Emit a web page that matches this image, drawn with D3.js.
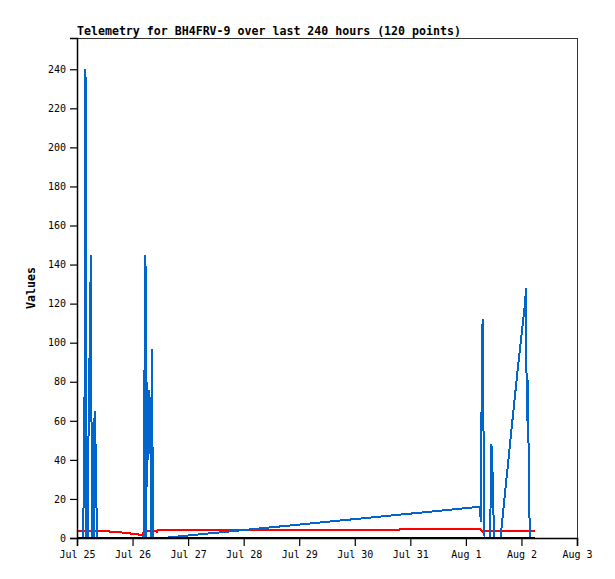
<!DOCTYPE html>
<html>
<head>
<meta charset="utf-8">
<script src="https://cdn.jsdelivr.net/npm/d3@7"></script>
<style>
  body { margin: 0; background: #fff; }
  text { font-family: "DejaVu Sans Mono", "Liberation Mono", monospace; }
</style>
</head>
<body>
<div id="chart"></div>
<script>
// tick labels on the time axis
var dayTicks = ["2024-07-25", "2024-07-26", "2024-07-27", "2024-07-28", "2024-07-29",
                "2024-07-30", "2024-07-31", "2024-08-01", "2024-08-02", "2024-08-03"];
var valueTicks = [0, 20, 40, 60, 80, 100, 120, 140, 160, 180, 200, 220, 240];

// blue series (spiky telemetry channel)
var blueTimes = [
  "07-25 02:35", "07-25 02:49", "07-25 03:09", "07-25 03:40", "07-25 04:06",
  "07-25 04:45", "07-25 05:06", "07-25 05:32", "07-25 05:58", "07-25 06:29",
  "07-25 07:08", "07-25 07:21", "07-25 07:36", "07-25 08:00", "07-25 08:25", "07-25 08:51",
  "07-26 04:44", "07-26 05:04", "07-26 05:35", "07-26 05:56", "07-26 06:14", "07-26 06:35",
  "07-26 06:53", "07-26 07:14", "07-26 07:37", "07-26 07:58", "07-26 08:24", "07-26 08:50",
  "07-26 13:05", "08-01 06:06", "08-01 06:26", "08-01 06:42", "08-01 06:58", "08-01 07:13",
  "08-01 07:36", "08-01 08:03", "08-01 10:25", "08-01 10:46", "08-01 11:02", "08-01 11:22",
  "08-01 11:43", "08-01 12:09", "08-01 14:57", "08-01 17:20", "08-01 19:55", "08-01 22:31",
  "08-02 01:33", "08-02 01:58", "08-02 02:19", "08-02 02:38", "08-02 02:56", "08-02 03:16",
  "08-02 03:43"
];
var blueValues = [
  0, 16, 32, 240, 0,
  0, 80, 97, 145, 0,
  0, 32, 65, 48, 16, 0,
  0, 72, 145, 0, 80, 40,
  76, 64, 72, 0, 97, 0,
  0, 16, 8, 57, 93, 112,
  57, 0, 0, 24, 48, 40,
  24, 0, 0, 28, 58, 88,
  120, 128, 60, 81, 64, 20,
  0
];

// red series (slowly varying channel)
var redTimes = [
  "07-25 00:00", "07-25 14:00", "07-25 14:15", "07-25 19:00", "07-25 19:30", "07-25 22:40",
  "07-25 23:10", "07-26 02:10", "07-26 02:30", "07-26 04:30", "07-26 04:50", "07-26 10:20",
  "07-26 10:35", "07-26 10:50", "07-30 19:00", "07-30 19:30", "08-01 06:00", "08-01 07:40",
  "08-01 08:40", "08-02 05:50"
];
var redValues = [
  3.7, 3.7, 3.2, 3.2, 2.7, 2.7,
  2.2, 2.2, 1.7, 1.7, 3.8, 3.8,
  2.6, 3.9, 3.9, 4.8, 4.8, 2.7,
  3.7, 3.7
];

// black series (flat at zero)
var blackTimes = ["07-25 00:00", "07-28 12:00", "08-02 05:50"];
var blackValues = [0, 0, 0];

var width = 615, height = 579;
var margin = {top: 38, right: 38, bottom: 41, left: 77};
var plotW = width - margin.left - margin.right,
    plotH = height - margin.top - margin.bottom;

var parseDay = d3.timeParse("%Y-%m-%d");
var parseTime = function(s) { return d3.timeParse("%Y-%m-%d %H:%M")("2024-" + s); };

var svg = d3.select("#chart").append("svg")
    .attr("width", width)
    .attr("height", height);

var g = svg.append("g")
    .attr("transform", "translate(" + margin.left + "," + margin.top + ")");

var x = d3.scaleTime()
    .domain([parseDay("2024-07-25"), parseDay("2024-08-03")])
    .range([0, plotW]);

var y = d3.scaleLinear()
    .domain([0, 256])
    .range([plotH, 0]);

// frame
g.append("rect")
    .attr("x", 0.5).attr("y", 0.5)
    .attr("width", plotW).attr("height", plotH)
    .attr("fill", "none")
    .attr("stroke", "#333")
    .attr("stroke-width", 1);

function series(times, values) {
  return times.map(function(t, i) { return {t: parseTime(t), v: values[i]}; });
}

var line = d3.line()
    .x(function(d) { return x(d.t); })
    .y(function(d) { return y(d.v); });

var lines = [
  {data: series(redTimes, redValues), color: "#ff0000"},
  {data: series(blueTimes, blueValues), color: "#0066cc"},
  {data: series(blackTimes, blackValues), color: "#000000"}
];

g.selectAll("path.series")
    .data(lines)
  .enter().append("path")
    .attr("class", "series")
    .attr("d", function(d) { return line(d.data); })
    .attr("fill", "none")
    .attr("stroke", function(d) { return d.color; })
    .attr("stroke-width", 2)
    .attr("shape-rendering", "crispEdges");

// axes
var xAxis = g.append("g")
    .attr("transform", "translate(0," + plotH + ")")
    .call(d3.axisBottom(x)
      .tickValues(dayTicks.map(parseDay))
      .tickFormat(d3.timeFormat("%b %-d"))
      .tickSize(8)
      .tickPadding(5));

var yAxis = g.append("g")
    .call(d3.axisLeft(y)
      .tickValues(valueTicks)
      .tickSize(7)
      .tickPadding(4));

[xAxis, yAxis].forEach(function(a) {
  a.selectAll("text").attr("font-size", 10).attr("fill", "#000")
    .style("font-family", "'DejaVu Sans Mono', monospace");
  a.selectAll(".tick line").attr("stroke", "#000").attr("stroke-width", 1.2);
  a.select(".domain").attr("stroke", "#000").attr("stroke-width", 1.5);
});

// title and axis label
svg.append("text")
    .attr("x", margin.left)
    .attr("y", 35)
    .attr("font-size", 11.6)
    .attr("font-weight", "bold")
    .text("Telemetry for BH4FRV-9 over last 240 hours (120 points)");

svg.append("text")
    .attr("transform", "translate(35," + (margin.top + plotH / 2) + ")rotate(-90)")
    .attr("text-anchor", "middle")
    .attr("font-size", 11.6)
    .attr("font-weight", "bold")
    .text("Values");
</script>
</body>
</html>
